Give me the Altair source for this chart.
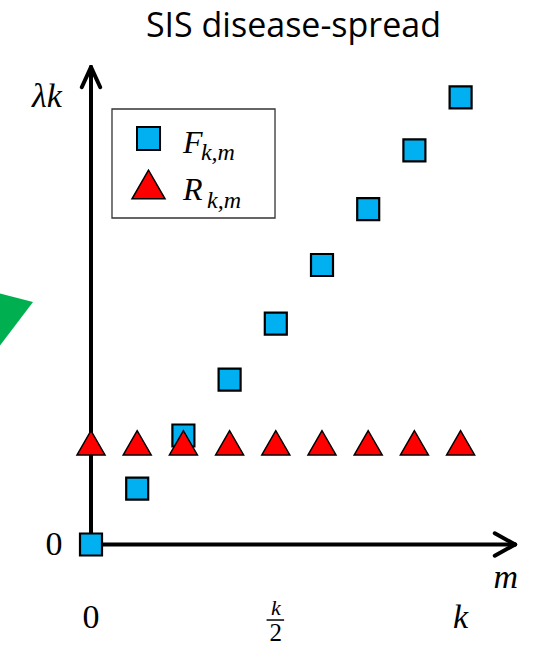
import altair as alt
import pandas as pd

# ---------------- data ----------------
m_vals = [0, 1, 2, 3, 4, 5, 6, 7, 8]
F_vals = [0.0, 1.0, 1.95, 2.95, 3.95, 5.0, 6.0, 7.05, 8.0]
R_vals = [1.82, 1.82, 1.82, 1.82, 1.82, 1.82, 1.82, 1.82, 1.82]

series_names = ["F", "R"]
series_sub = ["k,m", "k,m"]
series_colors = ["#00B0F0", "#FF0000"]

title_text = "SIS disease-spread"
y_label = "λk"
x_label = "m"
x_tick_labels = ["0", "k"]
x_tick_pos = [0, 8]
frac_num, frac_den = "k", "2"
frac_pos = 4

X_DOMAIN = [-1.9697, 9.6970]
Y_DOMAIN = [-1.8694, 9.7406]

W, H = 539, 649
SERIF = "Liberation Serif"
SANS = "Open Sans"

xs = alt.Scale(domain=X_DOMAIN, nice=False, zero=False)
ys = alt.Scale(domain=Y_DOMAIN, nice=False, zero=False)


def X(field="x", **kw):
    return alt.X(f"{field}:Q", scale=xs, axis=None, **kw)


def Y(field="y", **kw):
    return alt.Y(f"{field}:Q", scale=ys, axis=None, **kw)


# ---------------- decoration: green arrow fragment at left ----------------
green_df = pd.DataFrame({"x": [-2.3, -1.255], "y": [4.56, 4.338], "y2": [3.2, 4.338]})
green = alt.Chart(green_df).mark_area(color="#00B050", opacity=1).encode(
    x=X(), y=Y(), y2="y2:Q"
)

# ---------------- axes with arrows ----------------
axes_df = pd.DataFrame({
    "x":  [0.0, 0.0, 0.0, 0.0, 9.18, 9.18],
    "y":  [0.0, 0.0, 8.54, 8.54, 0.0, 0.0],
    "x2": [0.0, 9.18, -0.2, 0.2, 8.74, 8.74],
    "y2": [8.54, 0.0, 8.18, 8.18, 0.2, -0.2],
})
axes = alt.Chart(axes_df).mark_rule(color="black", strokeWidth=4, strokeCap="round").encode(
    x=X(), y=Y(), x2="x2:Q", y2="y2:Q"
)

# ---------------- series ----------------
df = pd.DataFrame({"m": m_vals, "F": F_vals, "R": R_vals})
squares = alt.Chart(df).mark_point(
    shape="square", filled=True, fill=series_colors[0], stroke="black",
    strokeWidth=2.2, size=484, opacity=1
).encode(x=X("m"), y=Y("F"))
triangles = alt.Chart(df).mark_point(
    shape="triangle-up", filled=True, fill=series_colors[1], stroke="black",
    strokeWidth=1.5, size=784, opacity=1
).encode(x=X("m"), y=Y("R"))

# ---------------- legend (drawn) ----------------
box_df = pd.DataFrame({"x": [0.4545], "x2": [3.983], "y": [7.791], "y2": [5.841]})
box = alt.Chart(box_df).mark_rect(fill="white", stroke="#333333", strokeWidth=1.3).encode(
    x=X(), x2="x2:Q", y=Y(), y2="y2:Q"
)
leg_sq = alt.Chart(pd.DataFrame({"x": [1.245], "y": [7.263]})).mark_point(
    shape="square", filled=True, fill=series_colors[0], stroke="black",
    strokeWidth=2, size=530, opacity=1
).encode(x=X(), y=Y())
leg_tri = alt.Chart(pd.DataFrame({"x": [1.245], "y": [6.44]})).mark_point(
    shape="triangle-up", filled=True, fill=series_colors[1], stroke="black",
    strokeWidth=1.5, size=1089, opacity=1
).encode(x=X(), y=Y())
leg_main = alt.Chart(pd.DataFrame({"x": [1.991, 1.991], "y": [7.004, 6.163], "t": series_names})).mark_text(
    font=SERIF, fontStyle="italic", fontSize=32, align="left", baseline="alphabetic", color="black"
).encode(x=X(), y=Y(), text="t:N")
leg_sub = alt.Chart(pd.DataFrame({"x": [2.38, 2.511], "y": [6.879, 6.02], "t": series_sub})).mark_text(
    font=SERIF, fontStyle="italic", fontSize=24, align="left", baseline="alphabetic", color="black"
).encode(x=X(), y=Y(), text="t:N")

# ---------------- labels ----------------
title = alt.Chart(pd.DataFrame({"x": [4.383], "y": [9.079], "t": [title_text]})).mark_text(
    font=SANS, fontSize=34, align="center", baseline="alphabetic", color="black"
).encode(x=X(), y=Y(), text="t:N")

ylab = alt.Chart(pd.DataFrame({"x": [-0.952], "y": [8.005], "t": [y_label]})).mark_text(
    font=SERIF, fontStyle="italic", fontSize=34, align="center", baseline="middle", color="black"
).encode(x=X(), y=Y(), text="t:N")

xlab = alt.Chart(pd.DataFrame({"x": [8.98], "y": [-0.599], "t": [x_label]})).mark_text(
    font=SERIF, fontStyle="italic", fontSize=34, align="center", baseline="middle", color="black"
).encode(x=X(), y=Y(), text="t:N")

y0 = alt.Chart(pd.DataFrame({"x": [-0.80], "y": [0.0], "t": ["0"]})).mark_text(
    font=SERIF, fontSize=34, align="center", baseline="middle", color="black"
).encode(x=X(), y=Y(), text="t:N")

xt_df = pd.DataFrame({"x": x_tick_pos, "y": [-1.315, -1.315], "t": x_tick_labels})
x0 = alt.Chart(xt_df.iloc[[0]]).mark_text(
    font=SERIF, fontSize=34, align="center", baseline="middle", color="black"
).encode(x=X(), y=Y(), text="t:N")
xk = alt.Chart(xt_df.iloc[[1]]).mark_text(
    font=SERIF, fontStyle="italic", fontSize=34, align="center", baseline="middle", color="black"
).encode(x=X(), y=Y(), text="t:N")

fr_num = alt.Chart(pd.DataFrame({"x": [frac_pos], "y": [-1.261], "t": [frac_num]})).mark_text(
    font=SERIF, fontStyle="italic", fontSize=22, align="center", baseline="alphabetic", color="black"
).encode(x=X(), y=Y(), text="t:N")
fr_den = alt.Chart(pd.DataFrame({"x": [frac_pos], "y": [-1.726], "t": [frac_den]})).mark_text(
    font=SERIF, fontSize=25, align="center", baseline="alphabetic", color="black"
).encode(x=X(), y=Y(), text="t:N")
fr_bar = alt.Chart(pd.DataFrame({"x": [3.80], "x2": [4.18], "y": [-1.351]})).mark_rule(
    color="black", strokeWidth=1.5
).encode(x=X(), x2="x2:Q", y=Y())

chart = alt.layer(
    green, axes, squares, triangles, box, leg_sq, leg_tri, leg_main, leg_sub,
    title, ylab, xlab, y0, x0, xk, fr_num, fr_den, fr_bar
).properties(
    width=W, height=H, padding=0, background="white",
    autosize=alt.AutoSizeParams(type="none")
).configure_view(stroke=None)

chart.save("out.html", embed_options={"renderer": "svg", "actions": False})
